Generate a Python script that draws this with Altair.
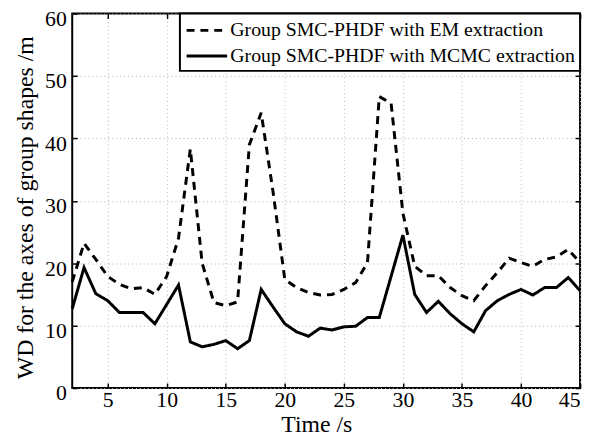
import altair as alt
import pandas as pd

time_s = list(range(2, 46))
em_values = [17.0, 23.2, 20.6, 17.9, 16.6, 15.9, 16.1, 15.0, 17.9, 24.0,
             38.3, 20.0, 13.7, 13.2, 13.8, 39.0, 44.1, 31.5, 17.4, 16.1,
             15.3, 14.9, 15.0, 15.8, 16.9, 20.1, 46.7, 45.6, 28.0, 19.5,
             18.0, 18.0, 16.1, 14.8, 14.0, 16.4, 18.5, 20.8, 20.1, 19.5,
             20.6, 21.0, 22.2, 20.1]
mcmc_values = [12.7, 19.3, 15.1, 14.0, 12.1, 12.1, 12.1, 10.3, 13.4, 16.5,
               7.4, 6.6, 7.0, 7.6, 6.3, 7.6, 15.8, 13.0, 10.3, 9.0,
               8.3, 9.6, 9.3, 9.8, 9.9, 11.3, 11.3, 17.9, 24.5, 15.0,
               12.1, 13.9, 11.9, 10.3, 9.0, 12.4, 14.0, 15.0, 15.8, 14.9,
               16.1, 16.1, 17.7, 15.6]
series_names = ["Group SMC-PHDF with EM extraction",
                "Group SMC-PHDF with MCMC extraction"]
x_ticks = [5, 10, 15, 20, 25, 30, 35, 40, 45]
y_ticks = [0, 10, 20, 30, 40, 50, 60]

rows = []
for name, vals in zip(series_names, [em_values, mcmc_values]):
    for t, v in zip(time_s, vals):
        rows.append({"t": t, "v": v, "series": name})
df = pd.DataFrame(rows)

FONT = "Liberation Serif"

xscale = alt.Scale(domain=[2, 45], nice=False, zero=False)
yscale = alt.Scale(domain=[0, 60], nice=False)

common = dict(
    labelFont=FONT, labelFontSize=22, labelColor="black", labelFontWeight=400,
    titleFont=FONT, titleFontSize=24, titleFontWeight=400, titleColor="black",
    tickColor="black", tickWidth=1.5, tickSize=5, offset=-5, domain=False,
)

main = alt.Chart(df).mark_line(color="black", strokeWidth=3).encode(
    x=alt.X("t:Q", scale=xscale,
            axis=alt.Axis(values=x_ticks, title="Time /s", grid=True,
                          labelPadding=2,
                          titleX=247, titleY=49, titleBaseline="alphabetic",
                          titleAlign="center", **common)),
    y=alt.Y("v:Q", scale=yscale,
            axis=alt.Axis(values=y_ticks, title="WD for the axes of group shapes /m",
                          grid=True, labelPadding=6, labelOffset=5,
                          titleX=-45, titleY=196, titleBaseline="alphabetic",
                          titleAlign="center", titleAngle=270, **common)),
    strokeDash=alt.StrokeDash(
        "series:N",
        scale=alt.Scale(domain=series_names, range=[[8, 6], [1, 0]]),
        legend=alt.Legend(title=None, orient="top-right", offset=0,
                          symbolType="M-1,0H3", symbolSize=420,
                          symbolStrokeWidth=3, symbolStrokeColor="black",
                          labelOffset=22, labelLimit=500,
                          labelFont=FONT, labelFontSize=20, labelFontWeight=400,
                          labelColor="black",
                          padding=5, rowPadding=4,
                          fillColor="white", strokeColor="black")),
)

frame = alt.Chart(df).mark_line(opacity=0).encode(
    x=alt.X("t:Q", scale=xscale,
            axis=alt.Axis(orient="top", values=x_ticks, labels=False, title="",
                          grid=False, tickSize=5, offset=-5, domain=False,
                          tickColor="black", tickWidth=1.5)),
    y=alt.Y("v:Q", scale=yscale,
            axis=alt.Axis(orient="right", values=y_ticks, labels=False, title="",
                          grid=False, tickSize=5, offset=-5, domain=False,
                          tickColor="black", tickWidth=1.5)),
    detail="series:N",
)

chart = alt.layer(main, frame).resolve_scale(
    x="independent", y="independent"
).properties(
    width=514, height=379,
    padding={"left": 65, "top": 3, "right": 6, "bottom": 52},
    autosize=alt.AutoSizeParams(type="none"),
).configure_view(
    stroke="black", strokeWidth=2
).configure_axis(
    gridColor="#b5b5b5", gridDash=[1, 3], gridWidth=1,
    titleFontWeight=400,
).configure_legend(
    strokeWidth=2
)

chart.save("out.html", embed_options={"renderer": "svg", "actions": False})
